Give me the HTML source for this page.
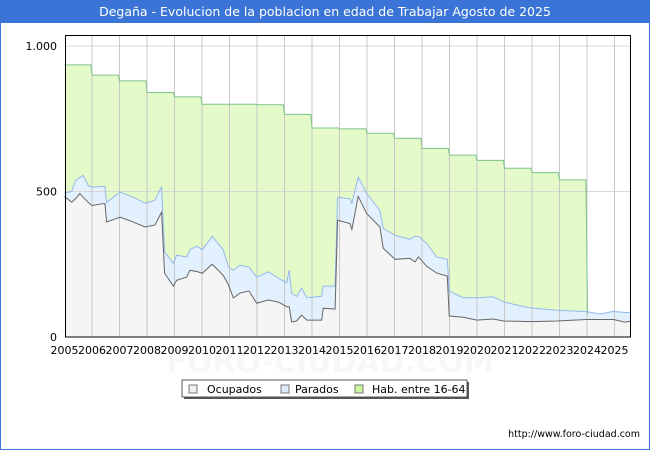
<!DOCTYPE html>
<html><head><meta charset="utf-8"><style>
body{margin:0;width:650px;height:450px;overflow:hidden;background:#fff;font-family:"Liberation Sans","DejaVu Sans",sans-serif}
</style></head><body>
<svg id="chart" width="650" height="450" xmlns="http://www.w3.org/2000/svg" font-family="DejaVu Sans, Liberation Sans, sans-serif">
<rect x="0.5" y="0.5" width="649" height="449" fill="#fff" stroke="#3a74d6"/>
<rect x="0" y="0" width="650" height="23" fill="#3a74d6"/>
<text x="325" y="16" text-anchor="middle" fill="#fff" font-size="12.5">Degaña - Evolucion de la poblacion en edad de Trabajar Agosto de 2025</text>
<text x="330" y="372" text-anchor="middle" fill="#f7f7fa" font-size="30" font-weight="bold">FORO-CIUDAD.COM</text>
<g id="plot"></g>
<rect x="65.5" y="35.5" width="565" height="301.5" fill="none" stroke="#000"/>
<g>
<rect x="184" y="382" width="285" height="17" fill="#555"/>
<rect x="182" y="380" width="285" height="17" fill="#fff" stroke="#555"/>
<rect x="189" y="385" width="8" height="8" fill="#eee" stroke="#777"/>
<text x="207" y="393" font-size="11">Ocupados</text>
<rect x="281" y="385" width="8" height="8" fill="#dcecfc" stroke="#777"/>
<text x="295" y="393" font-size="11">Parados</text>
<rect x="355" y="385" width="8" height="8" fill="#ccf5a0" stroke="#777"/>
<text x="372" y="393" font-size="11">Hab. entre 16-64</text>
</g>
<text x="640" y="437" text-anchor="end" font-size="9.5">http://www.foro-ciudad.com</text>
</svg>
<script>
const dates=[2005.0,2005.26,2005.4,2005.56,2005.68,2005.87,2006.0,2006.47,2006.53,2007.02,2007.5,2007.93,2008.29,2008.53,2008.64,2008.96,2009.08,2009.44,2009.56,2009.81,2010.01,2010.37,2010.77,2010.96,2011.14,2011.38,2011.71,2011.99,2012.41,2012.78,2013.08,2013.17,2013.26,2013.44,2013.62,2013.81,2014.35,2014.41,2014.84,2014.93,2015.38,2015.45,2015.68,2015.99,2016.47,2016.59,2017.02,2017.56,2017.75,2017.87,2018.17,2018.53,2018.92,2018.99,2019.5,2019.99,2020.59,2020.96,2021.44,2021.93,2022.9,2023.99,2024.47,2024.96,2025.38,2025.58];
const ocupados=[483,463,475,493,480,462,452,459,395,412,395,378,385,429,219,175,195,206,229,225,219,250,212,180,134,151,158,116,127,120,104,104,52,55,75,58,58,99,96,401,390,370,483,424,378,305,267,270,258,275,243,220,209,72,68,58,62,55,54,53,55,60,60,60,51,54];
const parados=[495,500,538,548,555,520,515,518,463,498,480,460,470,517,292,253,281,275,300,312,300,346,300,241,229,247,240,206,224,202,186,230,150,140,168,135,140,175,175,480,475,459,549,493,435,373,349,336,346,346,322,275,267,158,135,135,138,121,110,100,92,87,79,88,84,84];
const habYears=[2005,2006,2007,2008,2009,2010,2011,2012,2013,2014,2015,2016,2017,2018,2019,2020,2021,2022,2023];
const habValues=[935,900,880,840,825,800,800,798,765,718,715,700,683,648,625,607,580,565,540];
const yTicks=[0,500,1000];
const yTickLabels=["0","500","1.000"];
const xYears=[2005,2006,2007,2008,2009,2010,2011,2012,2013,2014,2015,2016,2017,2018,2019,2020,2021,2022,2023,2024,2025];

const X=t=>64.5+(t-2005)*27.5;
const Y=v=>337-v*0.291;
const NS="http://www.w3.org/2000/svg";
const g=document.getElementById('plot');
function mk(tag,attrs){const e=document.createElementNS(NS,tag);for(const k in attrs)e.setAttribute(k,attrs[k]);g.appendChild(e);return e;}

// hab area
const habPts=[];
habYears.forEach((yr,i)=>{habPts.push([X(yr),Y(habValues[i])]);habPts.push([X(yr+0.96),Y(habValues[i])]);});
const endParIdx=dates.findIndex(d=>d>=2024);
const endX=X(2024.02), endY=Y(parados[endParIdx]);
habPts.push([endX,endY]);
const parBelow=dates.map((d,i)=>[X(d),Y(parados[i])]).filter(p=>p[0]<=endX).reverse();
const hp=mk('path',{d:'M'+habPts.map(p=>p.join(',')).join('L')+'L'+parBelow.map(p=>p.join(',')).join('L')+'Z',fill:'#e4fbc9',stroke:'none'});



const parPts=dates.map((d,i)=>[X(d),Y(parados[i])]);
const ocPts=dates.map((d,i)=>[X(d),Y(ocupados[i])]);
const pa=mk('path',{d:'M'+parPts.map(p=>p.join(',')).join('L')+'L'+ocPts.slice().reverse().map(p=>p.join(',')).join('L')+'Z',fill:'#e3f0fd'});


const oa=mk('path',{d:'M'+ocPts.map(p=>p.join(',')).join('L')+`L${X(dates[dates.length-1])},337L${X(dates[0])},337Z`,fill:'#f5f5f5'});



// gridlines on top of areas
yTicks.forEach((v,i)=>{
  const l=mk('line',{x1:65,x2:631,y1:Y(v),y2:Y(v),stroke:'#d8d8d8'});
  
  
  const t=mk('text',{x:57,y:Y(v)+4,'text-anchor':'end','font-size':11});
  t.textContent=yTickLabels[i];
  
  
});
xYears.forEach(yr=>{
  if(yr>2005){
    const l=mk('line',{x1:X(yr),x2:X(yr),y1:36,y2:337,stroke:'#c8c8c8'});
    
    
  }
  const t=mk('text',{x:X(yr),y:354,'text-anchor':'middle','font-size':11});
  t.textContent=yr;
  
  
});

const hl=mk('path',{d:'M'+habPts.map(p=>p.join(',')).join('L'),fill:'none',stroke:'#7cc38a'});


const pl=mk('path',{d:'M'+parPts.map(p=>p.join(',')).join('L'),fill:'none',stroke:'#93b8ec'});


const ol=mk('path',{d:'M'+ocPts.map(p=>p.join(',')).join('L'),fill:'none',stroke:'#666'});


</script>
</body></html>
